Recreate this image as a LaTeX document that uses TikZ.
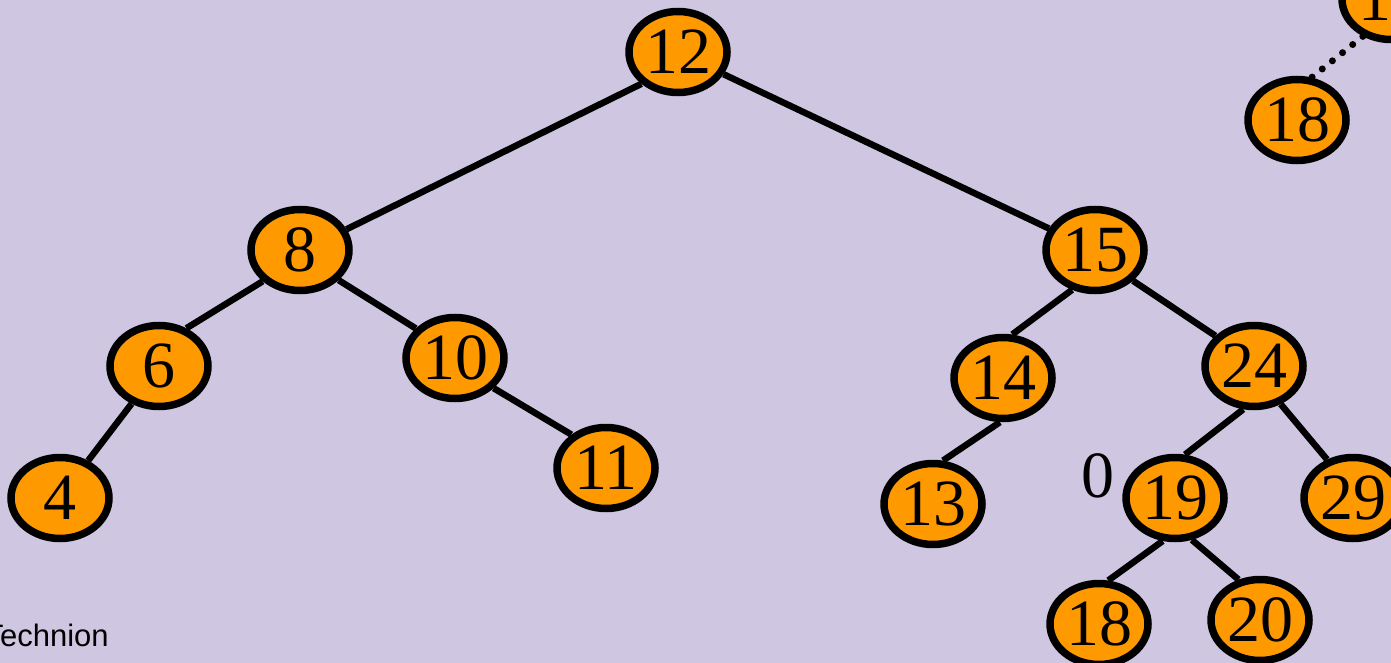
\documentclass[tikz,border=0pt]{standalone}
\usepackage{fontspec}
\setmainfont{Liberation Serif}
\newfontfamily\labelsans{Liberation Sans}
\usetikzlibrary{shapes.geometric}
\definecolor{slideBack}{RGB}{207,199,225}
\definecolor{keyFill}{RGB}{255,153,0}
\tikzstyle{keyNode}=[ellipse,draw=black,fill=keyFill,line width=7.5pt,minimum width=98pt,minimum height=81pt,inner sep=0pt,font=\fontsize{66}{66}\selectfont]
\tikzstyle{treeEdge}=[line width=6.5pt]
\tikzstyle{threadEdge}=[line width=7pt,line cap=round,dash pattern=on 0pt off 13pt]

\begin{document}
\begin{tikzpicture}[x=1pt,y=-1pt]
\fill[slideBack] (0,0) rectangle (1391,663);
\useasboundingbox (0,0) rectangle (1391,663);
        \foreach \name/\x/\y/\key in {k12/678/52/12, k8/300/250/8, k15/1095/250/15,
                k6/159/366/6, k10/455/358/10, k4/60/498/4, k11/606/468/11,
                k14/1003/378/14, k24/1254/366/24, k13/933/504/13, k19/1175/498/19,
                k29/1353/498/29, kA/1099/624/18, k20/1260/620/20, kB/1297/120/18} {
                \node[keyNode] (\name) 
                at (\x,\y) 
                {\key};
		}
        \node[keyNode] (kTop) 
        at (1391,-1) 
        {1\phantom{7}};
        \node[font=\fontsize{66}{66}\selectfont] (zeroMark) 
        at (1098,476) 
        {0};
        \node[font=\labelsans\fontsize{31}{31}\selectfont,anchor=base west] (school) 
        at (-19,646) 
        {Technion};
        % connectors leave the keys at fixed points of their rims
        \foreach \a/\sa/\b/\sb in {k12/221/k8/24, k12/-26/k15/155, k8/220/k6/54,
                k8/-38/k10/143, k6/234/k4/53, k10/-38/k11/136,
                k15/240/k14/78, k15/-39/k24/142, k14/266/k13/77,
                k24/256/k19/77, k24/-55/k29/124, k19/254/kA/78, k19/-68/k20/118} {
                \draw[treeEdge] (\a.\sa) -- (\b.\sb);
		}
        \draw[threadEdge] (kTop.233) -- (kB.71);
\end{tikzpicture}
\end{document}
